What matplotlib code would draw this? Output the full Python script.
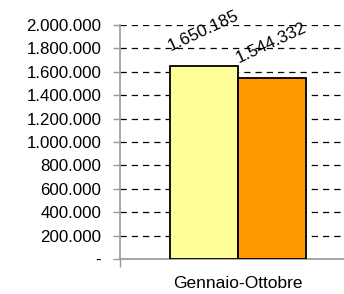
import matplotlib
matplotlib.use("Agg")
import matplotlib.pyplot as plt
from matplotlib.ticker import FuncFormatter, MultipleLocator

# dati
categorie = ["Gennaio-Ottobre"]
valori = [1650185, 1544332]
colori = ["#FFFF99", "#FF9900"]

plt.rcParams["font.family"] = ["Liberation Sans", "DejaVu Sans"]

fig = plt.figure(figsize=(3.44, 2.94), dpi=100)
ax = fig.add_axes([120 / 344, 35 / 294, 236 / 344, 234 / 294])

largh = 0.287
offs = [-0.143, 0.144]
for v, c, o in zip(valori, colori, offs):
    ax.bar(o, v, width=largh, color=c, edgecolor="black", linewidth=1.3, zorder=3)
    ax.annotate(f"{v:,}".replace(",", "."), xy=(o, v), xytext=(-1, 35),
                textcoords="offset pixels", ha="center", va="center",
                rotation=25, fontsize=12.3, zorder=4)

ax.set_xlim(-0.5, 0.5)
ax.set_ylim(0, 2000000)
ax.yaxis.set_major_locator(MultipleLocator(200000))
ax.yaxis.set_major_formatter(FuncFormatter(
    lambda y, _: "-" if y == 0 else f"{int(y):,}".replace(",", ".")))
ax.set_xticks([0])
ax.set_xticklabels(categorie)
ax.set_xticks([-0.5, 0.5], minor=True)
ax.tick_params(axis="x", which="major", length=0, pad=12, labelsize=12.5)
ax.tick_params(axis="x", which="minor", length=6, color="#999999", width=1)
ax.tick_params(axis="y", length=5, color="#999999", width=1, labelsize=12.2, pad=8.5)

ax.grid(axis="y", color="black", linestyle=(0, (5, 4)), linewidth=0.9, zorder=0)
for s in ["top", "right"]:
    ax.spines[s].set_visible(False)
ax.spines["left"].set_color("#999999")
ax.spines["bottom"].set_color("#999999")
ax.spines["left"].set_linewidth(1.2)
ax.spines["bottom"].set_linewidth(1.2)

fig.savefig("out.png", dpi=100)
